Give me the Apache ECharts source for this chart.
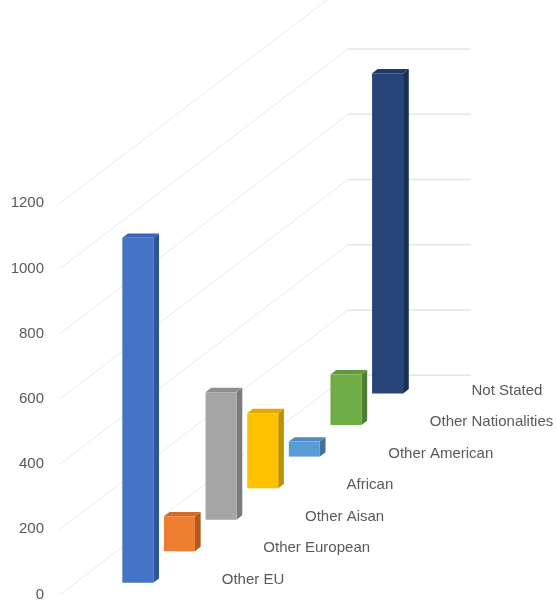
<!DOCTYPE html>
<html>
<head>
<meta charset="utf-8">
<script src="https://cdn.jsdelivr.net/npm/echarts@6/dist/echarts.min.js"></script>
<style>
html,body{margin:0;padding:0;background:#fff;}
#chart{width:556px;height:602px;}
</style>
</head>
<body>
<div id="chart"></div>
<script>
// ---- data ----
const categories = ['Other EU', 'Other European', 'Other Aisan', 'African', 'Other American', 'Other Nationalities', 'Not Stated'];
const values = [1058, 107, 391, 230, 46, 155, 982];
const yTicks = [0, 200, 400, 600, 800, 1000, 1200];

// ---- styles ----
const frontColors = ['#4472C4', '#ED7D31', '#A5A5A5', '#FFC000', '#5B9BD5', '#70AD47', '#264478'];
const sideColors  = ['#2F5597', '#AE5A21', '#7B7B7B', '#BF9000', '#41719C', '#507E32', '#1A2F54'];
const topColors   = ['#3B65B2', '#D06C29', '#8F8F8F', '#E0A800', '#4F8AC2', '#62993E', '#1F3A66'];

// ---- projection layout (pixels) ----
const AXIS_OFFSET = 57;      // y axis drawn left of the grid
const WALL_DX = 288, WALL_DY = 219.3, BACK_W = 123;
const LIFT0 = 11.7, LIFT_STEP = 31.55;   // depth lift of each category
const SIDE_DX = 5.7, SIDE_DY = 4.4;      // bar depth
const BAR_RATIO = 0.745;
const LABEL_DX = 99.4, LABEL_DY = -3;

const chart = echarts.init(document.getElementById('chart'), null, {renderer: 'canvas'});

function renderGrid(params, api) {
  const v = api.value(1);
  const y = api.coord([0, v])[1];
  const x0 = params.coordSys.x - AXIS_OFFSET;
  return {
    type: 'group',
    children: [
      {type: 'line', shape: {x1: x0, y1: y, x2: x0 + WALL_DX, y2: y - WALL_DY},
        style: {stroke: '#ebebeb', lineWidth: 1}},
      {type: 'line', shape: {x1: x0 + WALL_DX, y1: y - WALL_DY, x2: x0 + WALL_DX + BACK_W, y2: y - WALL_DY},
        style: {stroke: '#e6e6e6', lineWidth: 1.5}}
    ]
  };
}

function renderBar(params, api) {
  const i = api.value(0);
  const v = api.value(1);
  const p0 = api.coord([i, 0]);
  const p1 = api.coord([i, v]);
  const band = api.size([1, 0])[0];
  const w = band * BAR_RATIO;
  const lift = LIFT0 + i * LIFT_STEP;
  const xl = p0[0] - w / 2, xr = p0[0] + w / 2;
  const yb = p0[1] - lift, yt = p1[1] - lift;
  return {
    type: 'group',
    children: [
      {type: 'polygon', shape: {points: [[xr, yt], [xr + SIDE_DX, yt - SIDE_DY], [xr + SIDE_DX, yb - SIDE_DY], [xr, yb]]},
        style: {fill: sideColors[i]}},
      {type: 'polygon', shape: {points: [[xl, yt], [xl + SIDE_DX, yt - SIDE_DY], [xr + SIDE_DX, yt - SIDE_DY], [xr, yt]]},
        style: {fill: topColors[i]}},
      {type: 'rect', shape: {x: xl, y: yt, width: w, height: yb - yt},
        style: {fill: frontColors[i]}},
      {type: 'text', style: {text: categories[i], x: xl + LABEL_DX, y: yb + LABEL_DY,
        fill: '#595959', font: '15px "Liberation Sans", Arial, sans-serif', align: 'left', verticalAlign: 'middle'}}
    ]
  };
}

chart.setOption({
  animation: false,
  backgroundColor: '#ffffff',
  grid: {left: 117, right: 147.6, top: 203.2, bottom: 7},
  xAxis: {
    type: 'category', data: categories,
    axisLine: {show: false}, axisTick: {show: false}, axisLabel: {show: false}, splitLine: {show: false}
  },
  yAxis: {
    type: 'value', min: 0, max: 1200, interval: 200, offset: AXIS_OFFSET,
    axisLine: {show: false}, axisTick: {show: false}, splitLine: {show: false},
    axisLabel: {margin: 16, color: '#595959', fontSize: 15, fontFamily: '"Liberation Sans", Arial, sans-serif',
      formatter: v => String(v)}
  },
  series: [
    {type: 'custom', name: 'grid', clip: false, z: 1, silent: true,
      renderItem: renderGrid, data: yTicks.map(t => [0, t]), encode: {x: 0, y: 1}},
    {type: 'custom', name: 'bars', clip: false, z: 2,
      renderItem: renderBar, data: values.map((v, i) => [i, v]), encode: {x: 0, y: 1}}
  ]
});
</script>
</body>
</html>
